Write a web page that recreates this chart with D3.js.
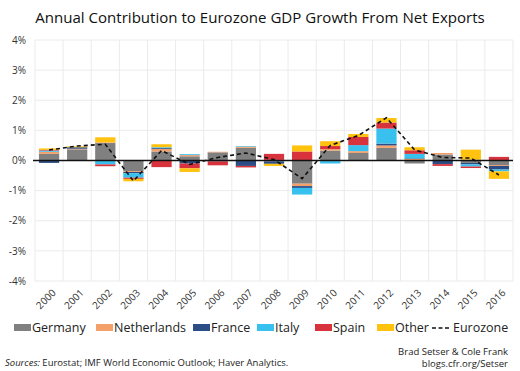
<!DOCTYPE html>
<html><head><meta charset="utf-8">
<script src="https://cdn.jsdelivr.net/npm/d3@7"></script>
<style>
body{margin:0;background:#fff;}
svg{display:block;font-family:"Open Sans",sans-serif;}
</style></head>
<body><svg id="c" width="520" height="371"></svg>
<script>
const years = ["2000","2001","2002","2003","2004","2005","2006","2007","2008","2009","2010","2011","2012","2013","2014","2015","2016"];
const germany     = [0.22, 0.37, 0.58, -0.35, 0.30, 0.14, 0.27, 0.42, -0.03, -0.77, 0.33, 0.25, 0.42, -0.10, 0.20, -0.08, -0.15];
const netherlands = [0.07, 0.02, 0.02, -0.03, 0.08, 0.04, 0.02, 0.04, 0.02, -0.08, 0.05, 0.06, 0.08, 0.05, 0.05, 0.03, -0.03];
const france      = [-0.08, 0.05, 0.00, -0.04, 0.03, -0.10, -0.03, -0.18, -0.08, -0.06, -0.02, 0.00, 0.06, 0.02, -0.12, -0.05, -0.12];
const italy       = [0.04, 0.00, -0.13, -0.15, 0.03, 0.03, 0.00, 0.02, 0.00, -0.22, -0.08, 0.20, 0.50, 0.15, 0.00, -0.07, -0.06];
const spain       = [0.02, 0.00, -0.06, -0.04, -0.22, -0.16, -0.13, -0.05, 0.20, 0.30, 0.10, 0.27, 0.20, 0.12, -0.06, -0.05, 0.12];
const other       = [0.05, 0.03, 0.17, -0.08, 0.10, -0.12, 0.00, 0.00, -0.07, 0.20, 0.16, 0.10, 0.15, 0.10, 0.00, 0.33, -0.25];
const eurozone    = [0.35, 0.48, 0.54, -0.68, 0.33, -0.13, 0.10, 0.25, 0.03, -0.60, 0.50, 0.83, 1.42, 0.35, 0.10, 0.08, -0.48];
const yTicks = [4, 3, 2, 1, 0, -1, -2, -3, -4];
const seriesNames = ["Germany","Netherlands","France","Italy","Spain","Other"];
const seriesColors = ["#808080","#f4a06a","#2b4c85","#38c0ef","#d8333d","#ffc20e"];

const seriesValues = [germany, netherlands, france, italy, spain, other];
const table = years.map((y, i) => {
  const o = {year: y};
  seriesNames.forEach((n, k) => o[n] = seriesValues[k][i]);
  return o;
});

const svg = d3.select("#c");
const L = 35, R = 513, T = 40, B = 281;
const x = d3.scaleBand().domain(years).range([L, R]).paddingInner(0.28).paddingOuter(0.14);
const y = d3.scaleLinear().domain([-4, 4]).range([B, T]);

// gridlines
const g = svg.append("g");
g.selectAll("line.h").data(yTicks).join("line")
  .attr("x1", L).attr("x2", R).attr("y1", d => y(d)).attr("y2", d => y(d))
  .attr("stroke", "#ebebeb").attr("stroke-width", 1);
const step = (R - L) / years.length;
g.selectAll("line.v").data(d3.range(years.length + 1)).join("line")
  .attr("x1", d => L + d * step).attr("x2", d => L + d * step)
  .attr("y1", T).attr("y2", B)
  .attr("stroke", "#ebebeb").attr("stroke-width", 1);

// y axis labels
const yAxis = d3.axisLeft(y).tickValues(yTicks).tickFormat(d => d + "%").tickSize(0).tickPadding(0);
const ya = svg.append("g").attr("transform", `translate(${L - 9},0)`).call(yAxis);
ya.select(".domain").remove();
ya.selectAll("text").attr("font-size", 10).attr("fill", "#333").attr("font-family", "Open Sans");

// stacked bars
const stack = d3.stack().keys(seriesNames).offset(d3.stackOffsetDiverging);
const stacked = stack(table);
svg.append("g").selectAll("g").data(stacked).join("g")
  .attr("fill", (d, i) => seriesColors[i])
  .selectAll("rect").data(d => d).join("rect")
  .attr("x", d => x(d.data.year))
  .attr("width", x.bandwidth())
  .attr("y", d => y(Math.max(d[0], d[1])))
  .attr("height", d => Math.abs(y(d[0]) - y(d[1])));

// zero line
svg.append("line").attr("x1", L - 2).attr("x2", R).attr("y1", y(0)).attr("y2", y(0))
  .attr("stroke", "#111").attr("stroke-width", 1.6);

// eurozone line
const line = d3.line().x((d, i) => x(years[i]) + x.bandwidth() / 2).y(d => y(d));
svg.append("path").datum(eurozone).attr("d", line)
  .attr("fill", "none").attr("stroke", "#111").attr("stroke-width", 1.6)
  .attr("stroke-dasharray", "4,3");

// x axis labels
const xAxis = d3.axisBottom(x).tickSize(0).tickPadding(0);
const xa = svg.append("g").attr("transform", `translate(0,${B + 10})`).call(xAxis);
xa.select(".domain").remove();
xa.selectAll("text")
  .attr("font-size", 10).attr("fill", "#333").attr("font-family", "Open Sans")
  .attr("text-anchor", "end").attr("dy", "0.35em")
  .attr("transform", "translate(5,0) rotate(-45)");

// title
const title = svg.append("text").attr("x", 260).attr("y", 23).attr("text-anchor", "middle")
  .attr("font-size", 15).attr("fill", "#111").attr("font-family", "Open Sans")
  .text("Annual Contribution to Eurozone GDP Growth From Net Exports");
const tw = title.node().getComputedTextLength();
title.attr("font-size", 15 * 450 / tw);

// legend
const legendX = [14, 96, 193, 257, 315, 377];
const lg = svg.append("g");
seriesNames.forEach((n, i) => {
  lg.append("rect").attr("x", legendX[i]).attr("y", 324).attr("width", 17).attr("height", 7).attr("fill", seriesColors[i]);
  lg.append("text").attr("x", legendX[i] + 18).attr("y", 332).attr("font-size", 12.5).attr("fill", "#222")
    .attr("font-family", "Open Sans").text(n);
});
lg.append("line").attr("x1", 432).attr("x2", 451).attr("y1", 328).attr("y2", 328)
  .attr("stroke", "#111").attr("stroke-width", 1.6).attr("stroke-dasharray", "4,2.5");
lg.append("text").attr("x", 453).attr("y", 332).attr("font-size", 12.5).attr("fill", "#222")
  .attr("font-family", "Open Sans").text("Eurozone");

// sources
const src = svg.append("text").attr("x", 5).attr("y", 366).attr("font-size", 9.5).attr("fill", "#222").attr("font-family", "Open Sans");
src.append("tspan").attr("font-style", "italic").text("Sources:");
src.append("tspan").text(" Eurostat; IMF World Economic Outlook; Haver Analytics.");
svg.append("text").attr("x", 508).attr("y", 355).attr("text-anchor", "end").attr("font-size", 9.5).attr("fill", "#222")
  .attr("font-family", "Open Sans").text("Brad Setser & Cole Frank");
svg.append("text").attr("x", 508).attr("y", 367).attr("text-anchor", "end").attr("font-size", 9.5).attr("fill", "#222")
  .attr("font-family", "Open Sans").text("blogs.cfr.org/Setser");
</script></body></html>
